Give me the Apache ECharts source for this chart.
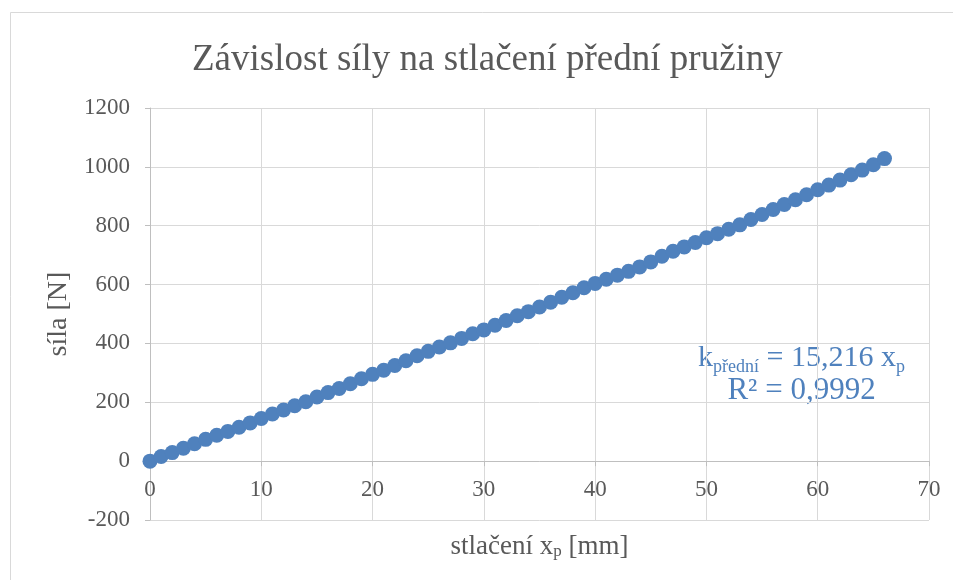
<!DOCTYPE html>
<html><head><meta charset="utf-8">
<script src="https://cdn.jsdelivr.net/npm/echarts@6/dist/echarts.min.js"></script>
<style>html,body{margin:0;padding:0;background:#fff}#c{width:953px;height:580px}</style>
</head><body><div id="c"></div>
<script>
const compression = [0,1,2,3,4,5,6,7,8,9,10,11,12,13,14,15,16,17,18,19,20,21,22,23,24,25,26,27,28,29,30,31,32,33,34,35,36,37,38,39,40,41,42,43,44,45,46,47,48,49,50,51,52,53,54,55,56,57,58,59,60,61,62,63,64,65,66];
const force = [0,16,29,44,59,74,88,101,115,130,145,160,174,188,202,218,233,247,263,280,295,309,325,341,358,373,388,402,417,433,446,462,478,494,508,524,540,557,572,589,604,618,632,645,660,677,696,713,728,743,759,773,788,803,821,838,855,872,888,905,922,938,955,973,989,1007,1028];
const titleText = 'Závislost síly na stlačení přední pružiny';
const yName = 'síla [N]';
const slopeText = '15,216';
const r2Text = '0,9992';

const serif = '"Liberation Serif","Times New Roman",serif';
const grey = '#595959';
const blue = '#4f81bd';
const gridTop = 108, gridBottom = 60, chartH = 580;
const yMin = -200, yMax = 1200;
// shift the x axis up so it sits on the zero line
const zeroOffset = -((chartH - gridTop - gridBottom) * (0 - yMin) / (yMax - yMin));
const chart = echarts.init(document.getElementById('c'), null, {renderer:'canvas'});
chart.setOption({
  animation:false,
  backgroundColor:'#fff',
  title:{text:titleText, left:187, top:37, textStyle:{fontFamily:serif, fontSize:37, fontWeight:'normal', color:grey}},
  grid:{left:150, right:24, top:gridTop, bottom:gridBottom, outerBoundsMode:'none', containLabel:false},
  graphic:[
    {type:'rect', shape:{x:10.5,y:12.5,width:1000,height:700}, style:{fill:'none', stroke:'#d9d9d9', lineWidth:1}, z:-1},
    {type:'text', right:48, top:343, style:{
      text:'{m|k}{s|přední}{m| = '+slopeText+' x}{s|p}\n{c|R² = '+r2Text+'}',
      align:'center', fill:blue,
      rich:{
        m:{fontFamily:serif, fontSize:30, fill:blue, lineHeight:36, verticalAlign:'middle'},
        s:{fontFamily:serif, fontSize:18, fill:blue, lineHeight:18, verticalAlign:'bottom'},
        c:{fontFamily:serif, fontSize:31, fill:blue, lineHeight:30, align:'center'}
      }}}
  ],
  xAxis:{type:'value', min:0, max:70, interval:10, offset:zeroOffset,
    name:'stlačení x{s|p} [mm]', nameLocation:'middle', nameGap:72,
    nameTextStyle:{fontFamily:serif, fontSize:27, color:grey,
      rich:{s:{fontFamily:serif, fontSize:17, color:grey, verticalAlign:'bottom', lineHeight:14}}},
    axisLine:{onZero:false, lineStyle:{color:'#bfbfbf', width:1}},
    axisTick:{show:true, length:5, lineStyle:{color:'#bfbfbf'}},
    axisLabel:{fontFamily:serif, fontSize:23, color:grey, margin:17, formatter:v=>String(v)},
    splitLine:{show:true, lineStyle:{color:'#d9d9d9', width:1}}
  },
  yAxis:{type:'value', min:yMin, max:yMax, interval:200,
    name:yName, nameLocation:'middle', nameGap:74, nameRotate:90,
    nameTextStyle:{fontFamily:serif, fontSize:28, color:grey},
    axisLine:{show:true, onZero:false, lineStyle:{color:'#bfbfbf', width:1}},
    axisTick:{show:true, length:5, lineStyle:{color:'#bfbfbf'}},
    axisLabel:{fontFamily:serif, fontSize:23, color:grey, margin:20, formatter:v=>String(v)},
    splitLine:{show:true, lineStyle:{color:'#d9d9d9', width:1}}
  },
  series:[{type:'scatter', data:compression.map((x,i)=>[x, force[i]]), symbolSize:15,
    itemStyle:{color:blue, opacity:1}}]
});
</script></body></html>
